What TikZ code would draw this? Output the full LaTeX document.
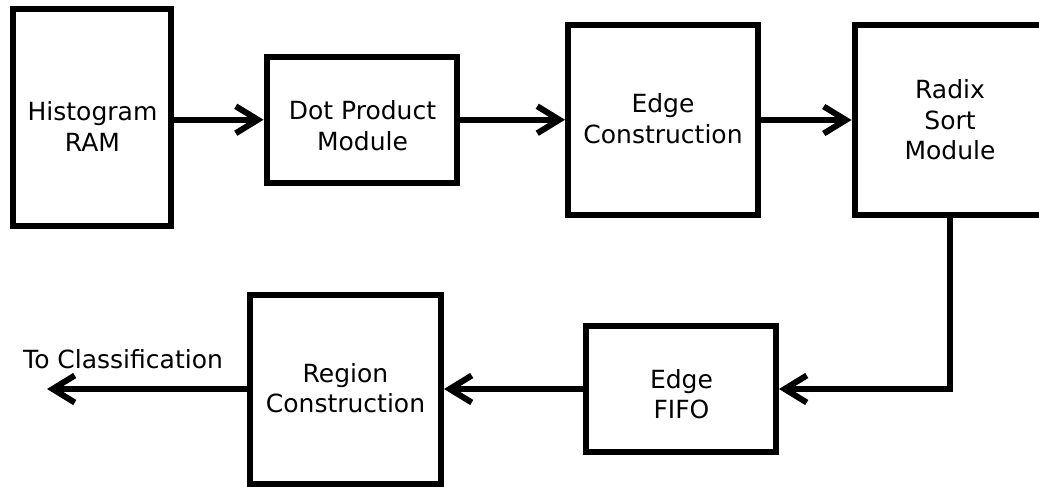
\documentclass[tikz,border=0pt]{standalone}
\usepackage{fontspec}
\setmainfont{DejaVu Sans}
\usetikzlibrary{arrows.meta}
\begin{document}
\begin{tikzpicture}[x=1pt,y=-1pt,
  blk/.style={draw=black, line width=6pt, inner sep=0pt, fill=white},
  lbl/.style={align=center, inner sep=0pt, text=black, font=\fontsize{25}{30.5}\selectfont},
  conn/.style={draw=black, line width=6pt, -{Straight Barb[length=22pt,width=27pt,line width=6pt]}}
]
\clip (0,0) rectangle (1039,487);
\fill[white] (0,0) rectangle (1039,487);
% boxes
\node[blk, minimum width=158pt, minimum height=216.5pt] (hist) at (92,117.75) {};
\node[blk, minimum width=190pt, minimum height=125.5pt] (dot) at (361.5,119.75) {};
\node[blk, minimum width=190pt, minimum height=189pt] (edge) at (663,120) {};
\node[blk, minimum width=190.5pt, minimum height=189.5pt] (radix) at (949.75,120.25) {};
\node[blk, minimum width=190pt, minimum height=126pt] (fifo) at (681,389) {};
\node[blk, minimum width=191pt, minimum height=189pt] (region) at (345.5,389) {};
% labels
\node[lbl] (histT) at (92.5,126.4) {Histogram\\RAM};
\node[lbl] (dotT) at (362.5,125.9) {Dot Product\\Module};
\node[lbl] (edgeT) at (663,118.5) {Edge\\Construction};
\node[lbl] (radixT) at (950,119.9) {Radix\\Sort\\Module};
\node[lbl] (fifoT) at (681.5,394.2) {Edge\\FIFO};
\node[lbl] (regionT) at (345.5,388.4) {Region\\Construction};
\node[lbl, anchor=base west] (cls) at (23,368) {To Classification};
% connectors
\coordinate (out) at (47,389);
\draw[conn] (dot.west -| hist.east) -- (dot.west);
\draw[conn] (dot.east) -- (dot.east -| edge.west);
\draw[conn] (edge.east) -- (edge.east -| radix.west);
\draw[conn] (radix.south) |- (fifo.east);
\draw[conn] (fifo.west) -- (fifo.west -| region.east);
\draw[conn] (region.west) -- (out);
\end{tikzpicture}
\end{document}
